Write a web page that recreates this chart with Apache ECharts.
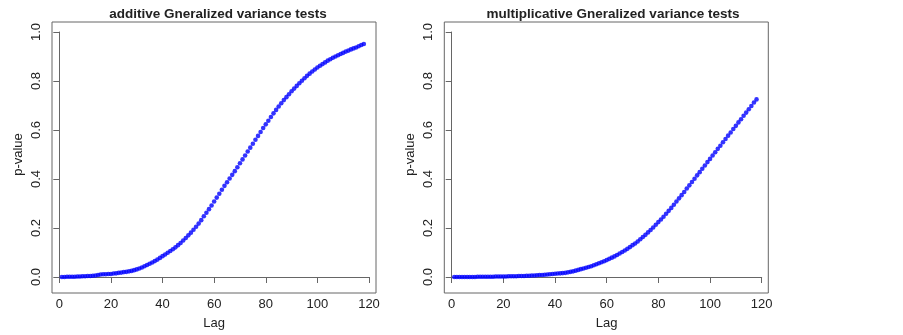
<!DOCTYPE html>
<html>
<head>
<meta charset="utf-8">
<script src="https://cdn.jsdelivr.net/npm/echarts@6/dist/echarts.min.js"></script>
<style>
  html, body { margin: 0; padding: 0; background: #fff; }
  #chart { width: 903px; height: 335px; }
</style>
</head>
<body>
<div id="chart"></div>
<script>
// lag 1..118
var lags = [];
for (var i = 1; i <= 118; i++) lags.push(i);

// p-values
var additive = [
  0.000,0.000,0.001,0.001,0.001,0.001,0.002,0.002,0.003,0.003,
  0.004,0.004,0.005,0.006,0.008,0.010,0.011,0.011,0.012,0.012,
  0.014,0.015,0.017,0.018,0.020,0.021,0.023,0.025,0.028,0.031,
  0.035,0.039,0.044,0.049,0.054,0.059,0.065,0.071,0.078,0.085,
  0.092,0.099,0.106,0.113,0.121,0.130,0.139,0.149,0.159,0.170,
  0.181,0.193,0.205,0.218,0.232,0.248,0.262,0.277,0.292,0.308,
  0.324,0.340,0.356,0.372,0.387,0.402,0.417,0.432,0.448,0.464,
  0.480,0.496,0.512,0.528,0.544,0.560,0.576,0.592,0.608,0.623,
  0.638,0.653,0.668,0.682,0.696,0.709,0.722,0.734,0.746,0.758,
  0.769,0.780,0.791,0.801,0.811,0.821,0.830,0.839,0.847,0.855,
  0.862,0.869,0.876,0.883,0.889,0.895,0.900,0.905,0.910,0.915,
  0.920,0.924,0.929,0.933,0.937,0.942,0.947,0.951
];
var multiplicative = [
  0.000,0.000,0.000,0.000,0.000,0.000,0.000,0.000,0.000,0.001,
  0.001,0.001,0.001,0.001,0.001,0.001,0.002,0.002,0.002,0.002,
  0.002,0.003,0.003,0.003,0.003,0.004,0.004,0.004,0.005,0.005,
  0.006,0.006,0.007,0.008,0.008,0.009,0.010,0.011,0.012,0.013,
  0.014,0.015,0.016,0.017,0.019,0.021,0.023,0.026,0.029,0.032,
  0.035,0.038,0.041,0.044,0.048,0.052,0.056,0.060,0.064,0.069,
  0.074,0.079,0.084,0.090,0.096,0.102,0.108,0.115,0.122,0.130,
  0.137,0.145,0.154,0.163,0.172,0.182,0.192,0.202,0.213,0.224,
  0.235,0.246,0.258,0.270,0.282,0.295,0.308,0.321,0.334,0.347,
  0.361,0.374,0.388,0.401,0.415,0.428,0.442,0.455,0.469,0.482,
  0.496,0.509,0.523,0.536,0.550,0.563,0.577,0.590,0.604,0.617,
  0.631,0.644,0.658,0.671,0.685,0.698,0.712,0.725
];

var titles = ['additive Gneralized variance tests', 'multiplicative Gneralized variance tests'];
var xTicks = { min: 0, max: 120, interval: 20 };
var yTicks = { min: 0, max: 1, interval: 0.2 };

var font = 'Liberation Sans, Arial, Helvetica, sans-serif';
var ink = '#222';
var frame = '#666';

function pairs(ys) {
  return lags.map(function (x, k) { return [x, ys[k]]; });
}

var myChart = echarts.init(document.getElementById('chart'), null, { renderer: 'canvas' });

// two panels: a box grid (frame only) and an axis grid (ticks from 0..120 / 0..1)
var panels = [
  { box: 52, axis: 59.3, axisW: 309.7, titleX: 213, data: additive },
  { box: 444.3, axis: 451.7, axisW: 310, titleX: 608, data: multiplicative }
];

var grids = [], xAxes = [], yAxes = [], series = [], titleList = [];
panels.forEach(function (p, n) {
  var gb = grids.length;
  grids.push({ left: p.box, top: 22, width: 324, height: 271, show: true,
               borderColor: frame, borderWidth: 1, backgroundColor: 'transparent' });
  xAxes.push({ gridIndex: gb, type: 'value', show: false });
  yAxes.push({ gridIndex: gb, type: 'value', show: false });

  var ga = grids.length;
  grids.push({ left: p.axis, top: 32, width: p.axisW, height: 251 });
  xAxes.push({
    gridIndex: ga, type: 'value', position: 'bottom', offset: 10,
    min: xTicks.min, max: xTicks.max, interval: xTicks.interval,
    axisLine: { show: true, lineStyle: { color: frame, width: 1 } },
    axisTick: { show: true, length: 6, lineStyle: { color: frame } },
    axisLabel: { show: true, margin: 11, fontSize: 13, color: ink, fontFamily: font },
    splitLine: { show: false },
    name: 'Lag', nameLocation: 'middle', nameGap: 30,
    nameTextStyle: { fontSize: 13, color: ink, fontFamily: font }
  });
  yAxes.push({
    gridIndex: ga, type: 'value', position: 'left', offset: p.axis - p.box,
    min: yTicks.min, max: yTicks.max, interval: yTicks.interval,
    axisLine: { show: true, lineStyle: { color: frame, width: 1 } },
    axisTick: { show: true, length: 6, lineStyle: { color: frame } },
    axisLabel: { show: true, rotate: 90, margin: 9, fontSize: 13, color: ink, fontFamily: font,
                 formatter: function (v) { return v.toFixed(1); } },
    splitLine: { show: false },
    name: 'p-value', nameLocation: 'middle', nameRotate: 90, nameGap: 27,
    nameTextStyle: { fontSize: 13, color: ink, fontFamily: font }
  });

  series.push({
    type: 'scatter', xAxisIndex: xAxes.length - 1, yAxisIndex: yAxes.length - 1,
    data: pairs(p.data), symbol: 'circle', symbolSize: 4.6, clip: false,
    itemStyle: { color: '#0000ff' }, silent: true
  });

  titleList.push({
    text: titles[n], left: p.titleX, top: 2, textAlign: 'center',
    textStyle: { fontSize: 13.5, fontWeight: 'bold', color: ink, fontFamily: font }
  });
});

var option = {
  animation: false,
  backgroundColor: '#fff',
  title: titleList,
  grid: grids,
  xAxis: xAxes,
  yAxis: yAxes,
  series: series
};
myChart.setOption(option);
</script>
</body>
</html>
